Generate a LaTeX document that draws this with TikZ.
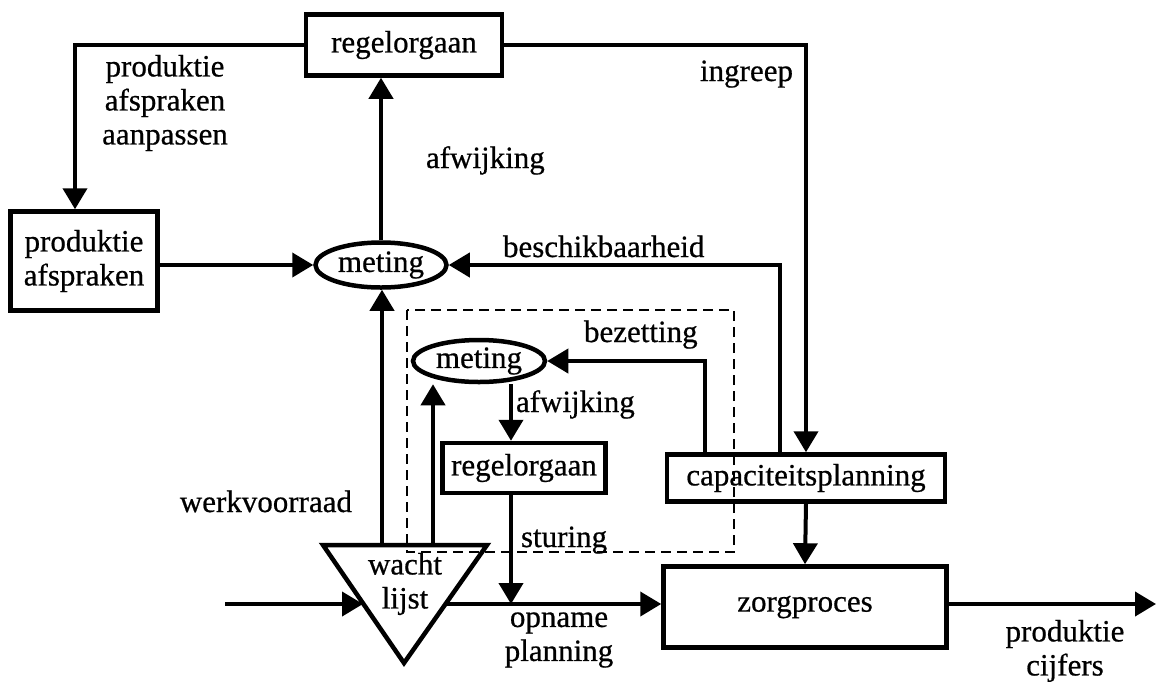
\documentclass[tikz,border=0pt]{standalone}
\usepackage{fontspec}
\setmainfont{Liberation Serif}[FakeBold=0.6]
\usetikzlibrary{arrows.meta,shapes.geometric,calc}

\begin{document}
\begin{tikzpicture}[x=1pt,y=-1pt,
  font=\fontsize{31}{34}\selectfont,
  line width=4pt,
  arr/.style={-{Triangle[length=21pt,width=24pt]}},
  box/.style={draw, rectangle, line width=4.5pt, inner sep=0pt, align=center},
  oval/.style={draw, ellipse, line width=4.5pt, inner sep=0pt},
  lbl/.style={inner sep=0pt},
  frame/.style={line width=2.5pt, dash pattern=on 10pt off 6pt}]
\useasboundingbox (0,0) rectangle (1157,681);

% blocks
\node[box, minimum width=196pt, minimum height=61pt] (rtop) at (404,45) {regelorgaan};
\node[box, minimum width=147pt, minimum height=99pt] (pa) at (84,261) {produktie\\afspraken};
\node[oval, minimum width=131pt, minimum height=45pt] (m1) at (381,265) {meting};
\node[oval, minimum width=132pt, minimum height=42pt] (m2) at (479,361) {meting};
\node[box, minimum width=163pt, minimum height=50pt] (r2) at (524,468) {regelorgaan};
\node[box, minimum width=278pt, minimum height=47pt] (cap) at (806,478) {capaciteitsplanning};
\node[box, minimum width=283pt, minimum height=81pt] (zorg) at (805,607) {zorgproces};

% waiting list triangle
\coordinate (tl) at (323,545);
\coordinate (tr) at (487,545);
\coordinate (tb) at (404,663);
\draw[line width=4.5pt] (tl) -- (tr) -- (tb) -- cycle;
\node[lbl, align=center] (wl) at (405,584) {wacht\\lijst};

% flow points on the main line and the triangle
\coordinate (src) at (225,604);
\coordinate (wlin) at (363,604);
\coordinate (wlout) at (446,604);
\coordinate (sink) at (1156,604);
\coordinate (wlA) at (382,545);
\coordinate (wlB) at (433,545);
\coordinate (a2) at ([xshift=-13pt]r2.north);
\coordinate (a2s) at ([xshift=-13pt]r2.south);

% outer control loop
\draw[arr] (rtop.west) -| ([xshift=-9pt]pa.north);
\draw[arr] (rtop.east) -| (cap.north);
\draw[arr] (m1.north) -- (m1.north |- rtop.south);
\draw[arr] (pa.east |- m1.west) -- (m1.west);
\draw[arr] ([xshift=-26pt]cap.north) |- (m1.east);
\draw[arr] (wlA) -- (wlA |- m1.south);

% inner control loop
\draw[arr] ([xshift=-101pt]cap.north) |- (m2.east);
\draw[arr] (wlB) -- (wlB |- m2.south);
\draw[arr] (a2 |- m2.south) -- (a2);
\draw[arr] (a2s) -- (a2s |- wlout);

% main flow
\draw[arr] (src) -- (wlin);
\draw[arr] (wlout) -- (zorg.west |- wlout);
\draw[arr] (zorg.east |- wlout) -- (sink);
\draw[arr] (cap.south) -- (zorg.north);

% labels
\node[lbl, align=center] (lpaa) at (165,103) {produktie\\afspraken\\aanpassen};
\node[lbl, anchor=base east] (ling) at (795,81) {ingreep};
\node[lbl, anchor=base west] (lafw1) at (424,168) {afwijking};
\node[lbl, anchor=base west] (lbes) at (501,257) {beschikbaarheid};
\node[lbl, anchor=base west] (lbez) at (582,342) {bezetting};
\node[lbl, anchor=base west] (lafw2) at (514,412) {afwijking};
\node[lbl, anchor=base west] (lstu) at (519,547) {sturing};
\node[lbl, anchor=base east] (lwerk) at (354,512) {werkvoorraad};
\node[lbl, align=center] (lopn) at (559,640) {opname\\planning};
\node[lbl, align=center] (lprc) at (1065,651) {produktie\\cijfers};

% boundary of the inner loop
\draw[frame] (407,310) rectangle (734,552);
\end{tikzpicture}
\end{document}
